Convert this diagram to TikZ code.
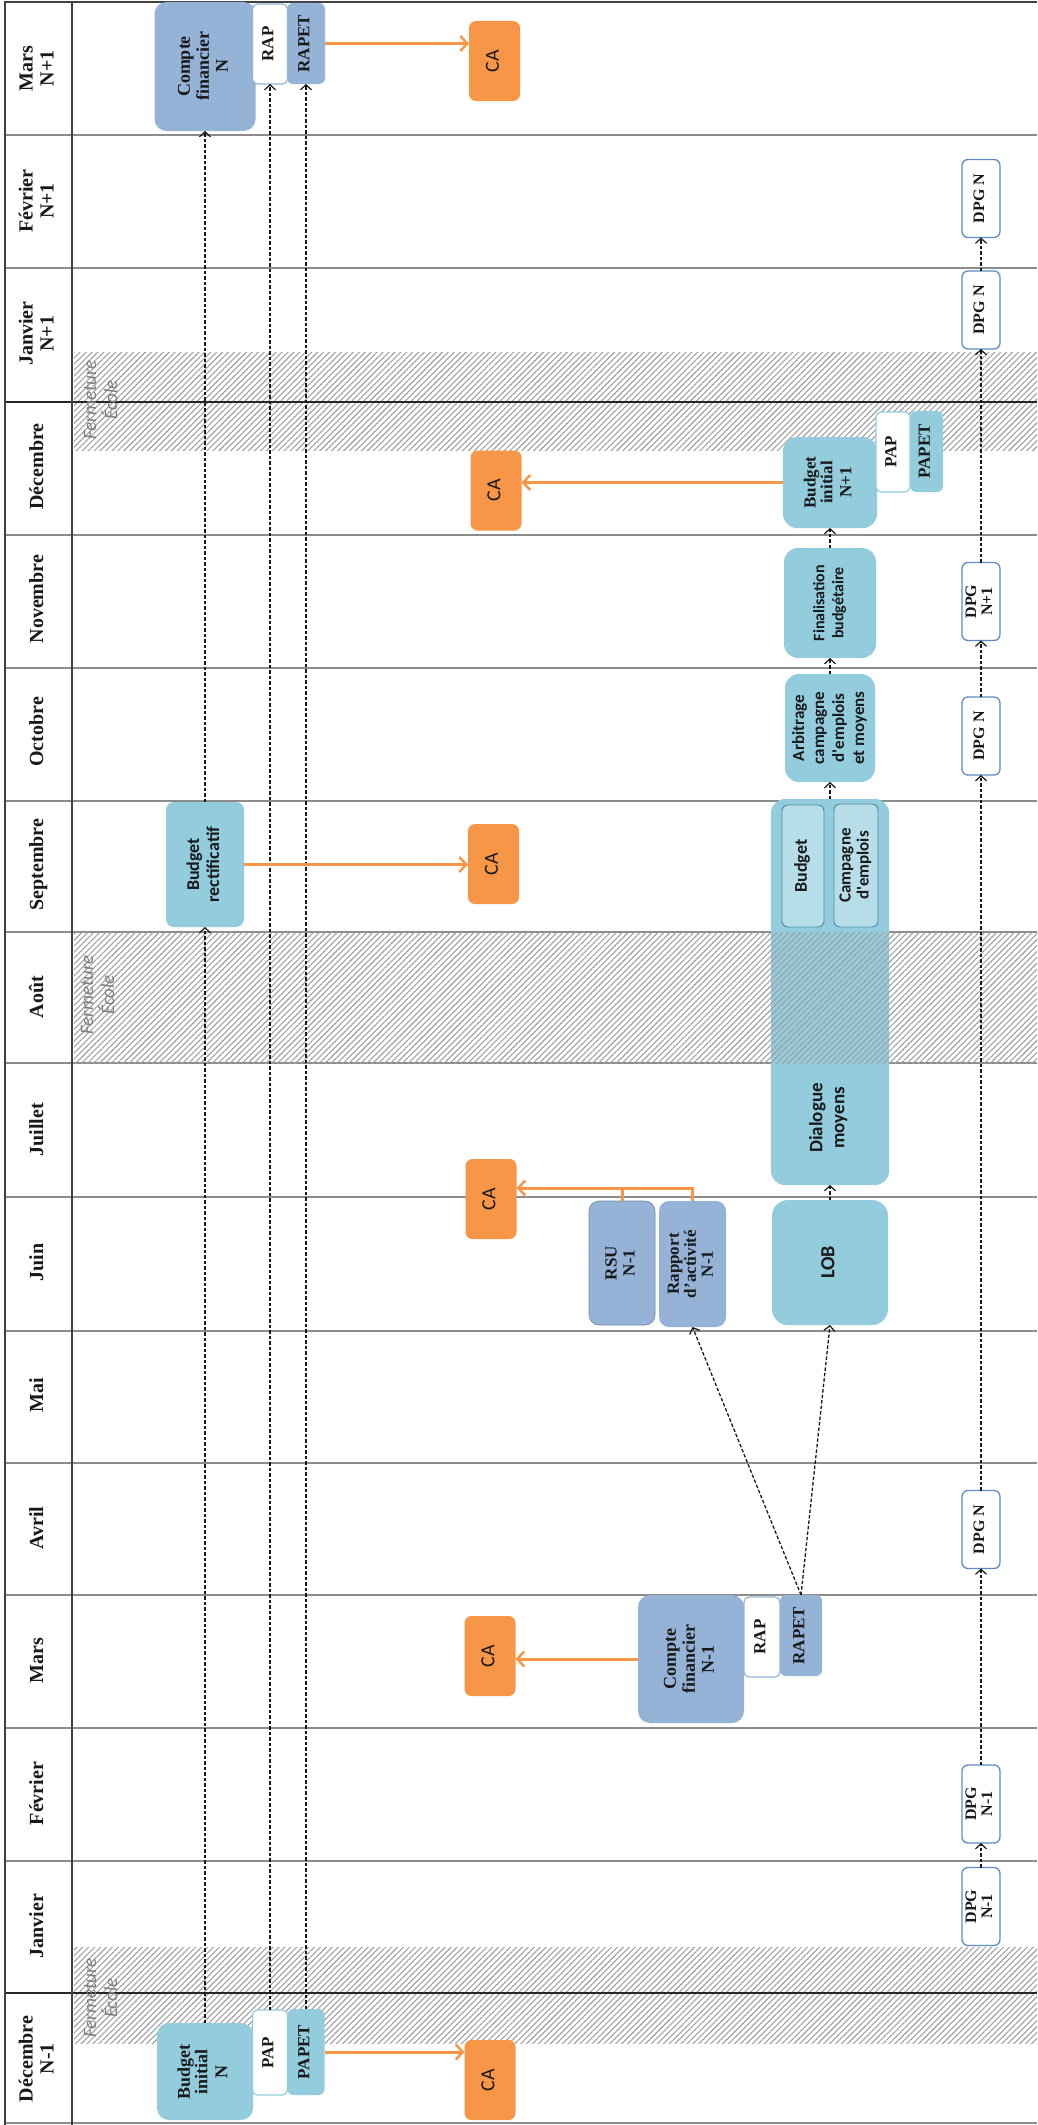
\documentclass[tikz,border=0pt]{standalone}
\usepackage{fontspec}
\setmainfont{Liberation Serif}
\newfontfamily\sansf{Carlito}
\usepackage{graphicx}
\usetikzlibrary{arrows.meta,patterns.meta}
\definecolor{tealbox}{RGB}{147,205,221}
\definecolor{slatebox}{RGB}{149,179,215}
\definecolor{orangebox}{RGB}{247,150,70}
\definecolor{dpgblue}{RGB}{95,140,195}
\definecolor{innerfill}{RGB}{183,222,232}
\definecolor{innerdraw}{RGB}{70,140,165}
\definecolor{gridgray}{RGB}{140,140,140}
\definecolor{hatchgray}{RGB}{160,160,160}
\newcommand\rt[1]{\rotatebox{90}{\begin{tabular}{@{}c@{}}#1\end{tabular}}}
\newcommand\fsz[2]{\fontsize{#1}{#2}\selectfont}
\begin{document}
\begin{tikzpicture}[x=1pt,y=-1pt,
  base/.style={inner sep=0pt,outer sep=0pt,text=black!90},
  tealb/.style={base,fill=tealbox,rounded corners=12pt},
  slateb/.style={base,fill=slatebox,rounded corners=12pt},
  whiteb/.style={base,fill=white,line width=1.2pt,rounded corners=5pt},
  cab/.style={base,fill=orangebox,rounded corners=7pt,minimum width=51pt,minimum height=80pt,font=\sansf\fsz{20}{22}},
  dpgb/.style={base,fill=white,draw=dpgblue,line width=1.3pt,rounded corners=6pt,minimum width=38pt,minimum height=78pt,font=\bfseries\fsz{16}{16}},
  innerb/.style={base,fill=innerfill,draw=innerdraw,line width=0.9pt,rounded corners=6pt},
  monthlbl/.style={base,font=\bfseries\fsz{20}{21}},
  closelbl/.style={base,text=black!50,font=\sansf\itshape\fsz{19}{17}},
  gridline/.style={draw=gridgray,line width=1.8pt},
  thickline/.style={draw=black!85,line width=2.2pt},
  hatch/.style={pattern={Lines[angle=45,distance=4.2pt,line width=1.1pt]},pattern color=hatchgray},
  dashconn/.style={draw=black!90,line width=1.3pt,dash pattern=on 3.5pt off 2pt,-{Straight Barb[length=5pt,width=11pt,line width=1.2pt]}},
  orangeconn/.style={draw=orangebox,line width=3pt,-{Straight Barb[length=7pt,width=15pt,line width=2.5pt]}},
  orangeline/.style={draw=orangebox,line width=3pt}
]
\useasboundingbox (0,0) rectangle (1037,2125);
\fill[white] (0,0) rectangle (1037,2125);

% closure hatches (December / January)
\fill[hatch] (74,352) rectangle (1037,450);
\fill[hatch] (74,1947) rectangle (1037,2043);

% grid
\foreach \yy in {135,268,535,668,801,932,1063,1197,1331,1463,1595,1728,1861}
  \draw[gridline] (5,\yy) -- (1037,\yy);
\draw[thickline] (5,402) -- (1037,402);
\draw[thickline] (5,1993) -- (1037,1993);
\draw[gridline] (5,2123) -- (1037,2123);
\draw[black!75,line width=2pt] (72,2) -- (72,2125);
\draw[black!75,line width=2.5pt] (5,2125) -- (5,2) -- (1037,2);

% month labels
\foreach \i/\m in {0/{Mars\\N+1},1/{Février\\N+1},2/{Janvier\\N+1},3/{Décembre},4/{Novembre},5/{Octobre},6/{Septembre},7/{Août},8/{Juillet},9/{Juin},10/{Mai},11/{Avril},12/{Mars},13/{Février},14/{Janvier},15/{Décembre\\N-1}}
  \node[monthlbl] (m\i) at (39,{2+132.7*(\i+0.5)}) {\rt{\m}};

% Décembre N-1
\node[tealb,minimum width=96pt,minimum height=97pt,font=\bfseries\fsz{18}{17}] (binN) at (205,2071.5) {\rt{Budget\\initial\\[3pt]N}};
\node[whiteb,draw=tealbox,minimum width=35pt,minimum height=85pt,font=\bfseries\fsz{17}{17}] (papN) at (270,2052.5) {\rt{PAP}};
\node[tealb,rounded corners=6pt,minimum width=37pt,minimum height=86pt,font=\bfseries\fsz{17}{17}] (papetN) at (306,2052) {\rt{PAPET}};
\node[cab] (caA) at (490,2080) {\rt{CA}};

% DPG chain
\node[dpgb] (dpgA) at (981,1906.5) {\rt{DPG\\N-1}};
\node[dpgb] (dpgB) at (981,1804) {\rt{DPG\\N-1}};
\node[dpgb] (dpgC) at (981,1529.5) {\rt{DPG N}};
\node[dpgb] (dpgD) at (981,736) {\rt{DPG N}};
\node[dpgb] (dpgE) at (981,601.5) {\rt{DPG\\N+1}};
\node[dpgb] (dpgF) at (981,310) {\rt{DPG N}};
\node[dpgb] (dpgG) at (981,198.5) {\rt{DPG N}};

% Mars
\node[slateb,minimum width=106pt,minimum height=128pt,font=\bfseries\fsz{18}{19}] (cfA) at (691,1659) {\rt{Compte\\financier\\N-1}};
\node[whiteb,draw=slatebox,minimum width=36pt,minimum height=80pt,font=\bfseries\fsz{17}{17}] (rapA) at (762,1637) {\rt{RAP}};
\node[slateb,rounded corners=6pt,minimum width=42pt,minimum height=81pt,font=\bfseries\fsz{17}{17}] (rapetA) at (801,1635.5) {\rt{RAPET}};
\node[cab] (caB) at (490,1656) {\rt{CA}};

% Juin
\node[slateb,draw=slatebox!75!black,line width=0.6pt,rounded corners=10pt,minimum width=66pt,minimum height=124pt,font=\bfseries\fsz{17}{18}] (rsu) at (622,1263) {\rt{RSU\\N-1}};
\node[slateb,rounded corners=10pt,minimum width=67pt,minimum height=126pt,font=\bfseries\fsz{17}{17}] (rapport) at (692.5,1264) {\rt{Rapport\\d'activité\\N-1}};
\node[tealb,rounded corners=16pt,minimum width=116pt,minimum height=125pt,font=\sansf\bfseries\fsz{20}{22}] (lob) at (830,1262.5) {\rt{LOB}};
\node[cab] (caC) at (491,1199) {\rt{CA}};

% Juillet - Septembre group
\node[tealb,rounded corners=14pt,minimum width=118pt,minimum height=386pt] (grp) at (830,992) {};
\node[base,font=\sansf\bfseries\fsz{19}{22}] (dial) at (829,1118) {\rt{Dialogue\\moyens}};
\node[innerb,minimum width=42pt,minimum height=122pt,font=\sansf\bfseries\fsz{18}{19}] (budg) at (803,866) {\rt{Budget}};
\node[innerb,minimum width=44pt,minimum height=123pt,font=\sansf\bfseries\fsz{17}{18}] (camp) at (856,865.5) {\rt{Campagne\\d'emplois}};

% Août closure hatch over the group
\fill[hatch] (74,932) rectangle (1037,1063);

% Septembre
\node[tealb,rounded corners=8pt,minimum width=78pt,minimum height=125pt,font=\sansf\bfseries\fsz{18}{20}] (brect) at (205,864.5) {\rt{Budget\\rectificatif}};
\node[cab] (caD) at (493.5,864) {\rt{CA}};

% Octobre - Décembre
\node[tealb,rounded corners=14pt,minimum width=90pt,minimum height=108pt,font=\sansf\bfseries\fsz{17}{20}] (arb) at (830,728) {\rt{Arbitrage\\campagne\\d'emplois\\et moyens}};
\node[tealb,rounded corners=14pt,minimum width=92pt,minimum height=110pt,font=\sansf\bfseries\fsz{16}{19}] (fin) at (830,603) {\rt{Finalisation\\budgétaire}};
\node[tealb,rounded corners=14pt,minimum width=94pt,minimum height=91pt,font=\bfseries\fsz{17}{16}] (binN1) at (830,482.5) {\rt{Budget\\initial\\[3pt]N+1}};
\node[whiteb,draw=tealbox,minimum width=34pt,minimum height=80pt,font=\bfseries\fsz{17}{17}] (papN1) at (893,452) {\rt{PAP}};
\node[tealb,rounded corners=6pt,minimum width=33pt,minimum height=81pt,font=\bfseries\fsz{17}{17}] (papetN1) at (926.5,451.5) {\rt{PAPET}};
\node[cab] (caE) at (496,490.5) {\rt{CA}};

% Mars N+1
\node[slateb,minimum width=101pt,minimum height=129pt,font=\bfseries\fsz{18}{19}] (cfB) at (205,66.5) {\rt{Compte\\financier\\N}};
\node[whiteb,draw=slatebox,minimum width=35pt,minimum height=80pt,font=\bfseries\fsz{17}{17}] (rapB) at (270,44) {\rt{RAP}};
\node[slateb,rounded corners=6pt,minimum width=38pt,minimum height=81pt,font=\bfseries\fsz{17}{17}] (rapetB) at (306,43.5) {\rt{RAPET}};
\node[cab] (caF) at (494.5,61) {\rt{CA}};

% closure labels
\node[closelbl] (fermA) at (103,400) {\rt{Fermeture\\École}};
\node[closelbl] (fermB) at (100,995) {\rt{Fermeture\\École}};
\node[closelbl] (fermC) at (103,1998) {\rt{Fermeture\\École}};

% dashed connectors
\draw[dashconn] (binN.north) -- (brect.south);
\draw[dashconn] (brect.north) -- (cfB.south);
\draw[dashconn] (papN.north) -- (rapB.south);
\draw[dashconn] (papetN.north) -- (rapetB.south);
\draw[dashconn] (rapetA.north) -- (rapport.south);
\draw[dashconn] (rapetA.north) -- (lob.south);
\draw[dashconn] (lob.north) -- (grp.south);
\draw[dashconn] (grp.north) -- (arb.south);
\draw[dashconn] (arb.north) -- (fin.south);
\draw[dashconn] (fin.north) -- (binN1.south);
\draw[dashconn] (dpgA.north) -- (dpgB.south);
\draw[dashconn] (dpgB.north) -- (dpgC.south);
\draw[dashconn] (dpgC.north) -- (dpgD.south);
\draw[dashconn] (dpgD.north) -- (dpgE.south);
\draw[dashconn] (dpgE.north) -- (dpgF.south);
\draw[dashconn] (dpgF.north) -- (dpgG.south);

% orange connectors
\draw[orangeconn] (papetN.east) -- (papetN.east -| caA.west);
\draw[orangeconn] (cfA.west) -- (cfA.west -| caB.east);
\coordinate (busY) at (0,1188);
\draw[orangeline] (rsu.north) -- (rsu.north |- busY);
\draw[orangeconn] (rapport.north) -- (rapport.north |- busY) -- (caC.east |- busY);
\draw[orangeconn] (brect.east) -- (brect.east -| caD.west);
\draw[orangeconn] (binN1.west) -- (binN1.west -| caE.east);
\draw[orangeconn] (rapetB.east) -- (rapetB.east -| caF.west);
\end{tikzpicture}
\end{document}
